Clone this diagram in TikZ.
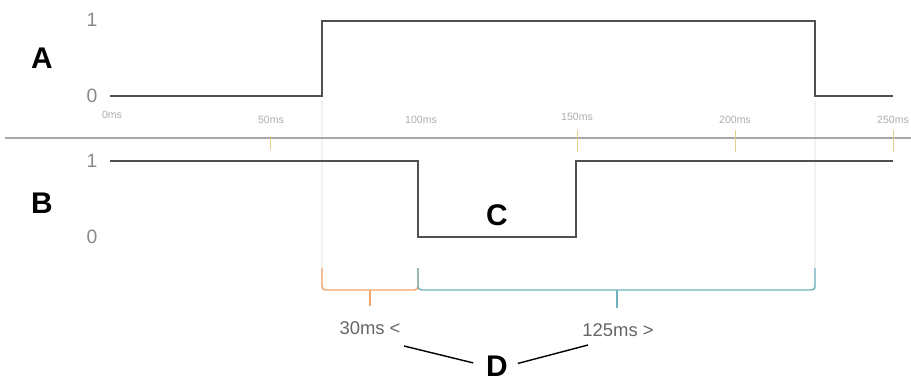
\documentclass[tikz,border=0pt]{standalone}
\usepackage{fontspec}
\setmainfont{Liberation Sans}
\usetikzlibrary{positioning}
\definecolor{trazo}{HTML}{505050}
\definecolor{eje}{HTML}{A8A8A8}
\definecolor{rotulo}{HTML}{8A8A8A}
\definecolor{marcaamar}{HTML}{DDD28A}
\definecolor{naranja}{HTML}{F2A46A}
\definecolor{turquesa}{HTML}{6FB2BE}
\tikzset{
  senal/.style={draw=trazo,line width=1.1pt},
  linea/.style={draw=eje,line width=0.9pt},
  marca/.style={draw=marcaamar,line width=0.5pt},
  guia/.style={draw=black!5,line width=1.4pt},
  letra/.style={font=\fontsize{17}{17}\selectfont\bfseries,text=black,inner sep=0pt},
  nivel/.style={font=\fontsize{11}{11}\selectfont,text=rotulo,inner sep=0pt},
  tiempo/.style={font=\fontsize{6}{6}\selectfont,text=rotulo!70,inner sep=0pt},
  medida/.style={font=\fontsize{10.5}{10.5}\selectfont,text=black!60,inner sep=0pt},
  llavenar/.style={draw=naranja,line width=0.8pt,rounded corners=2pt},
  llavetur/.style={draw=turquesa,line width=0.8pt,rounded corners=2pt},
  flecha/.style={draw=black,line width=0.8pt},
}
\begin{document}
\begin{tikzpicture}[x=0.02cm,y=-0.02cm]
\useasboundingbox (0,0) rectangle (911,381);
% guias
\draw[guia] (322,100) -- (322,290);
\draw[guia] (815,100) -- (815,290);
% eje de tiempo
\coordinate (e1) at (5,138);
\coordinate (e2) at (911,138);
\draw[linea] (e1) -- (e2);
\draw[marca] (270,136) -- (270,150);
\draw[marca] (577,130) -- (577,152);
\draw[marca] (735,130) -- (735,152);
\draw[marca] (893,130) -- (893,152);
\node[tiempo] (t0) at (112,115) {0ms};
\node[tiempo] (t50) at (271,120) {50ms};
\node[tiempo] (t100) at (421,120) {100ms};
\node[tiempo] (t150) at (577,117) {150ms};
\node[tiempo] (t200) at (735,120) {200ms};
\node[tiempo] (t250) at (893,120) {250ms};
% senal A
\coordinate (a1) at (110,96);
\coordinate (a2) at (322,96);
\coordinate (a3) at (322,21);
\coordinate (a4) at (815,21);
\coordinate (a5) at (815,96);
\coordinate (a6) at (893,96);
\draw[senal] (a1) -- (a2) -- (a3) -- (a4) -- (a5) -- (a6);
\node[letra] (A) at (42,58) {A};
\node[nivel] (a1n) at (92,20) {1};
\node[nivel] (a0n) at (92,96) {0};
% senal B
\coordinate (b1) at (110,161);
\coordinate (b2) at (418,161);
\coordinate (b3) at (418,237);
\coordinate (b4) at (576,237);
\coordinate (b5) at (576,161);
\coordinate (b6) at (893,161);
\draw[senal] (b1) -- (b2) -- (b3) -- (b4) -- (b5) -- (b6);
\node[letra] (B) at (42,203) {B};
\node[nivel] (b1n) at (92,161) {1};
\node[nivel] (b0n) at (92,237) {0};
\node[letra] (C) at (497,215) {C};
% llaves
\draw[llavenar] (322,268) -- (322,290) -- (418,290) -- (418,268);
\draw[llavenar] (370,290) -- (370,306);
\draw[llavetur] (418,268) -- (418,290) -- (815,290) -- (815,268);
\draw[llavetur] (617,290) -- (617,308);
\node[medida] (m30) at (370,328) {30ms <};
\node[medida] (m125) at (618,330) {125ms >};
% D
\node[letra] (D) at (497,366) {D};
\coordinate (d1) at (404,346);
\coordinate (d2) at (588,345);
\draw[flecha,shorten >=0.26cm] (d1) -- (D.west);
\draw[flecha,shorten <=0.2cm] (D.east) -- (d2);
\end{tikzpicture}
\end{document}
